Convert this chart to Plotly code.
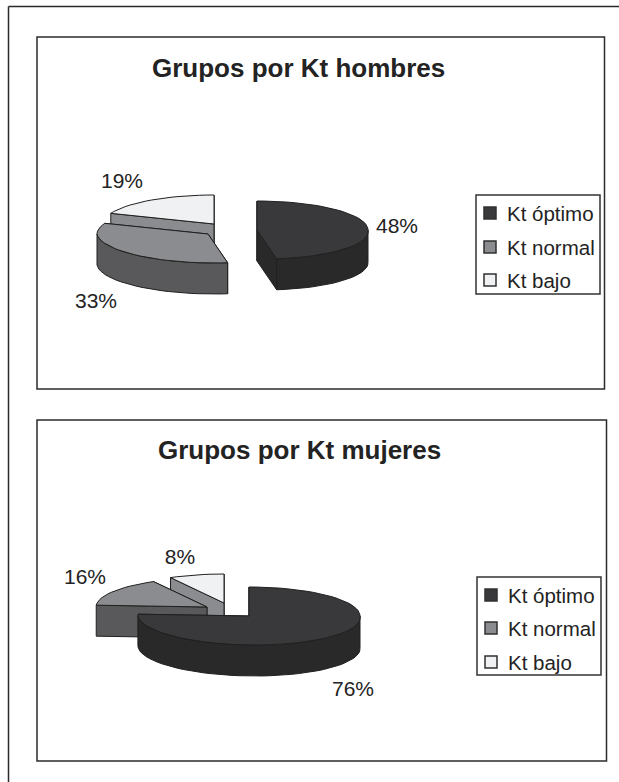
import math
import plotly.graph_objects as go

categories = ["Kt óptimo", "Kt normal", "Kt bajo"]
hombres_values = [48, 33, 19]
mujeres_values = [76, 16, 8]
titles = ["Grupos por Kt hombres", "Grupos por Kt mujeres"]

TOP = ["#39393b", "#8b8c8f", "#f0f1f3"]
SIDE = ["#2a292a", "#59595b", "#8b8c8f"]
EDGE = "#202020"
INK = "#232323"
RX, RY = 111, 29
DEPTH = 31
FRONT_SKEW = 0.2
W, H = 619, 782

fig = go.Figure()


def add_poly(pts, color, width=1.0):
    xs = [p[0] for p in pts] + [pts[0][0]]
    ys = [p[1] for p in pts] + [pts[0][1]]
    fig.add_trace(go.Scatter(x=xs, y=ys, mode="lines", fill="toself", fillcolor=color,
                             line=dict(color=EDGE, width=width), hoverinfo="skip",
                             showlegend=False))


def ell(c, deg):
    a = math.radians(deg)
    dy = -RY * math.cos(a)
    return (c[0] + RX * math.sin(a) + FRONT_SKEW * max(dy, 0), c[1] + dy)


def arc(c, a0, a1, dy=0):
    n = max(2, int(abs(a1 - a0) / 4) + 1)
    out = []
    for i in range(n + 1):
        x, y = ell(c, a0 + (a1 - a0) * i / n)
        out.append((x, y + dy))
    return out


def angles(values):
    total = sum(values)
    res, acc = [], 0
    for v in values:
        res.append((acc / total * 360, (acc + v) / total * 360))
        acc += v
    return res


def wedge(c, a0, a1, top, side):
    """Draw one 3D slice: cut faces (rear one first), outer rim, then top surface."""
    for a in sorted((a0, a1), key=lambda t: ell(c, t)[1]):
        p = ell(c, a)
        add_poly([c, p, (p[0], p[1] + DEPTH), (c[0], c[1] + DEPTH)], side)
    lo, hi = max(a0, 90), min(a1, 270)
    if hi > lo:
        rim = arc(c, lo, hi)
        add_poly(rim + [(x, y + DEPTH) for x, y in reversed(rim)], side)
    add_poly([c] + arc(c, a0, a1), top)


def pie(values, centers, order):
    ang = angles(values)
    for i in order:
        wedge(centers[i], ang[i][0], ang[i][1], TOP[i], SIDE[i])


pie(hombres_values, [(257, 230), (208, 234), (214, 224)], [2, 1, 0])
pie(mujeres_values, [(249, 616), (207, 607), (224, 603)], [2, 1, 0])

label_pos = [
    [(397, 228), (96, 303), (122, 183)],
    [(353, 691), (85, 579), (180, 559)],
]
for vals, pos in zip([hombres_values, mujeres_values], label_pos):
    fig.add_trace(go.Scatter(x=[p[0] for p in pos], y=[p[1] for p in pos], mode="text",
                             text=[f"{v}%" for v in vals], textposition="middle center",
                             textfont=dict(family="Liberation Sans", size=21, color=INK),
                             hoverinfo="skip", showlegend=False))

legend_layout = [
    dict(box=(476, 195, 600, 294), sx=490, tx=505, ys=[213, 247, 280]),
    dict(box=(477, 577, 601, 675), sx=491, tx=506, ys=[595, 628, 662]),
]
shapes = []
annotations = []


def rect(x0, y0, x1, y1, color="#2b2b2b", width=1.5, fill="rgba(0,0,0,0)"):
    shapes.append(dict(type="rect", xref="x", yref="y", x0=x0, y0=y0, x1=x1, y1=y1,
                       line=dict(color=color, width=width), fillcolor=fill, layer="above"))


rect(37, 37, 604.5, 389)
rect(37, 420, 606.5, 761)
for L in legend_layout:
    rect(*L["box"], color="#333333")
    for i, y in enumerate(L["ys"]):
        rect(L["sx"] - 6, y - 6, L["sx"] + 6, y + 6, color="#303030", fill=TOP[i])
        annotations.append(dict(x=L["tx"], y=y, xref="x", yref="y", text=categories[i],
                                showarrow=False, xanchor="left", yanchor="middle",
                                font=dict(family="Liberation Sans", size=20.5, color=INK)))

shapes.append(dict(type="line", x0=8.5, y0=6.5, x1=619, y1=6.5, xref="x", yref="y",
                   line=dict(color="#2b2b2b", width=1.5)))
shapes.append(dict(type="line", x0=8.5, y0=6.5, x1=8.5, y1=782, xref="x", yref="y",
                   line=dict(color="#2b2b2b", width=1.5)))

for text, x, y in [(titles[0], 298, 68), (titles[1], 299.5, 450)]:
    annotations.append(dict(x=x, y=y, xref="x", yref="y", text=f"<b>{text}</b>", showarrow=False,
                            xanchor="center", yanchor="middle",
                            font=dict(family="Liberation Sans", size=26, color=INK)))

fig.update_layout(
    width=W, height=H, margin=dict(l=0, r=0, t=0, b=0, pad=0),
    paper_bgcolor="white", plot_bgcolor="white", showlegend=False,
    xaxis=dict(range=[0, W], visible=False, fixedrange=True),
    yaxis=dict(range=[H, 0], visible=False, fixedrange=True),
    shapes=shapes, annotations=annotations,
)
fig.write_html("out.html", config=dict(displayModeBar=False),
               post_script="document.body.style.margin='0';document.documentElement.style.overflow='hidden';")
